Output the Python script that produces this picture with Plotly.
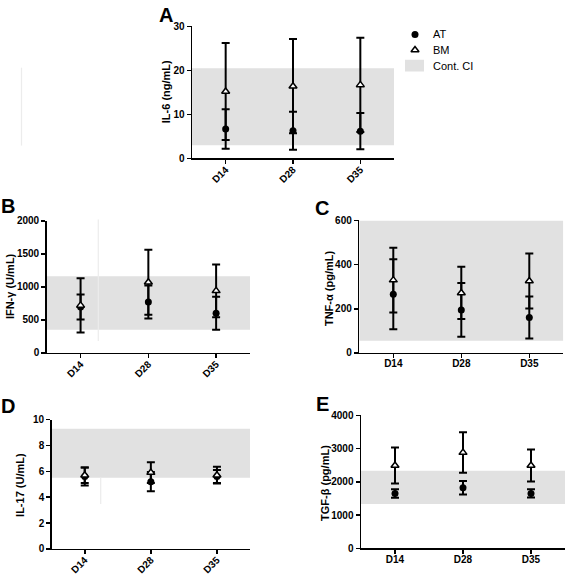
import plotly.graph_objects as go

W, H = 567, 582

days = ["D14", "D28", "D35"]

# Panel A: IL-6 (ng/mL)
il6_at = [6.7, 6.3, 6.2]
il6_at_err = [4.5, 4.3, 4.1]
il6_bm = [15.2, 16.4, 16.7]
il6_bm_err = [11.0, 10.7, 10.7]
il6_ci = [3.0, 20.5]

# Panel B: IFN-gamma (U/mL)
ifn_at = [695, 770, 600]
ifn_at_err = [190, 250, 250]
ifn_bm = [720, 1070, 940]
ifn_bm_err = [410, 490, 400]
ifn_ci = [350, 1160]

# Panel C: TNF-alpha (pg/mL)
tnf_at = [266, 195, 161]
tnf_at_err = [158, 122, 95]
tnf_bm = [330, 272, 326]
tnf_bm_err = [147, 118, 124]
tnf_ci = [55, 600]

# Panel D: IL-17 (U/mL)
il17_at = [5.6, 5.2, 5.6]
il17_at_err = [0.7, 0.75, 0.5]
il17_bm = [5.7, 5.9, 5.7]
il17_bm_err = [0.6, 0.8, 0.65]
il17_ci = [5.5, 9.3]

# Panel E: TGF-beta (pg/mL)
tgf_at = [1650, 1820, 1650]
tgf_at_err = [130, 205, 125]
tgf_bm = [2490, 2880, 2490]
tgf_bm_err = [540, 610, 480]
tgf_ci = [1330, 2330]

FONT = "Liberation Sans, Arial, sans-serif"
BAND = "#e1e1e1"

def px_x(p):
    return p / W

def px_y(p):
    return 1 - p / H

panels = [
    dict(letter="A", title="IL-6 (ng/mL)", at=il6_at, ate=il6_at_err, bm=il6_bm, bme=il6_bm_err,
         ci=il6_ci, ymax=30, dtick=10, xd=(192, 394), yd=(20.7, 155.7), angle=-45,
         lp=(166, 9), tp=(166, 88)),
    dict(letter="B", title="IFN-γ (U/mL)", at=ifn_at, ate=ifn_at_err, bm=ifn_bm, bme=ifn_bm_err,
         ci=ifn_ci, ymax=2000, dtick=500, xd=(46.7, 250), yd=(219.3, 354.3), angle=-45,
         lp=(8, 204), tp=(10, 286)),
    dict(letter="C", title="TNF-α (pg/mL)", at=tnf_at, ate=tnf_at_err, bm=tnf_bm, bme=tnf_bm_err,
         ci=tnf_ci, ymax=600, dtick=200, xd=(359.3, 563.3), yd=(219, 354.3), angle=0,
         lp=(322, 206), tp=(329, 288)),
    dict(letter="D", title="IL-17 (U/mL)", at=il17_at, ate=il17_at_err, bm=il17_bm, bme=il17_bm_err,
         ci=il17_ci, ymax=10, dtick=2, xd=(51.7, 250), yd=(422.3, 554.3), angle=-45,
         lp=(8, 408), tp=(20, 489)),
    dict(letter="E", title="TGF-β (pg/mL)", at=tgf_at, ate=tgf_at_err, bm=tgf_bm, bme=tgf_bm_err,
         ci=tgf_ci, ymax=4000, dtick=1000, xd=(361, 565), yd=(418, 553.7), angle=0,
         lp=(322, 406), tp=(325, 487)),
]

fig = go.Figure()
layout = dict(
    width=W, height=H, margin=dict(l=0, r=0, t=0, b=0),
    paper_bgcolor="white", plot_bgcolor="rgba(0,0,0,0)",
    showlegend=False, font=dict(family=FONT, color="black"),
)
shapes = []
annotations = []
xs = [0, 1, 2]

for i, p in enumerate(panels, start=1):
    xa = "x" if i == 1 else f"x{i}"
    ya = "y" if i == 1 else f"y{i}"
    xkey = "xaxis" if i == 1 else f"xaxis{i}"
    ykey = "yaxis" if i == 1 else f"yaxis{i}"
    layout[xkey] = dict(
        domain=[px_x(p["xd"][0]), px_x(p["xd"][1])], anchor=ya,
        range=[-0.5, 2.5], tickvals=xs, ticktext=days, tickangle=p["angle"],
        showline=True, linecolor="black", linewidth=1.5, ticks="outside",
        ticklen=4, tickwidth=1.5, tickcolor="black", showgrid=False, zeroline=False,
        ticklabelstandoff=-4 if p["angle"] else -3,
        tickfont=dict(family=FONT, size=10, color="black", weight="bold"),
    )
    layout[ykey] = dict(
        domain=[px_y(p["yd"][1]), px_y(p["yd"][0])], anchor=xa,
        range=[0, p["ymax"]], dtick=p["dtick"], tick0=0,
        showline=True, linecolor="black", linewidth=1.5, ticks="outside",
        ticklen=4, tickwidth=1.5, tickcolor="black", showgrid=False, zeroline=False,
        tickfont=dict(family=FONT, size=10, color="black", weight="bold"),
    )
    shapes.append(dict(type="rect", xref=xa, yref=ya, x0=-0.5, x1=2.5,
                       y0=p["ci"][0], y1=p["ci"][1], fillcolor=BAND,
                       line=dict(width=0), layer="below"))
    fig.add_trace(go.Scatter(
        x=xs, y=p["at"], mode="markers", xaxis=xa, yaxis=ya, name="AT",
        marker=dict(symbol="circle", size=7, color="black"),
        error_y=dict(type="data", array=p["ate"], color="black", thickness=2, width=4),
        cliponaxis=False,
    ))
    fig.add_trace(go.Scatter(
        x=xs, y=p["bm"], mode="markers", xaxis=xa, yaxis=ya, name="BM",
        marker=dict(symbol="triangle-up", size=7, color="white",
                    line=dict(color="black", width=1.5)),
        error_y=dict(type="data", array=p["bme"], color="black", thickness=2, width=4),
        cliponaxis=False,
    ))
    annotations.append(dict(text=p["letter"], xref="paper", yref="paper",
                            x=px_x(p["lp"][0]), y=px_y(p["lp"][1]),
                            xanchor="center", yanchor="middle", showarrow=False,
                            font=dict(family=FONT, size=20, color="black", weight="bold")))
    annotations.append(dict(text=p["title"], xref="paper", yref="paper",
                            x=px_x(p["tp"][0]), y=px_y(p["tp"][1]), textangle=-90,
                            xanchor="center", yanchor="middle", showarrow=False,
                            font=dict(family=FONT, size=11, color="black", weight="bold")))

# Legend drawn on a small hidden pixel-scaled axis
layout["xaxis6"] = dict(domain=[px_x(400), px_x(440)], range=[400, 440], visible=False,
                        anchor="y6", fixedrange=True)
layout["yaxis6"] = dict(domain=[px_y(70), px_y(20)], range=[70, 20], visible=False,
                        anchor="x6", fixedrange=True)
fig.add_trace(go.Scatter(x=[415], y=[29], mode="markers", xaxis="x6", yaxis="y6",
                         marker=dict(symbol="circle", size=7, color="black")))
fig.add_trace(go.Scatter(x=[415], y=[45], mode="markers", xaxis="x6", yaxis="y6",
                         marker=dict(symbol="triangle-up", size=7, color="white",
                                     line=dict(color="black", width=1.5))))
shapes.append(dict(type="rect", xref="x6", yref="y6", x0=405, x1=424, y0=55, y1=67,
                   fillcolor=BAND, line=dict(width=0)))
for label, yy in [("AT", 29), ("BM", 45), ("Cont. CI", 61)]:
    annotations.append(dict(text=label, xref="paper", yref="paper",
                            x=px_x(431), y=px_y(yy), xanchor="left", yanchor="middle",
                            showarrow=False, font=dict(family=FONT, size=11, color="black")))

# faint scanning artefact lines present in the source image
for (xx, y0, y1) in [(21.5, 63, 142.5), (98.3, 218, 342), (100.7, 481.5, 508.5)]:
    shapes.append(dict(type="line", xref="paper", yref="paper",
                       x0=px_x(xx), x1=px_x(xx), y0=px_y(y0), y1=px_y(y1),
                       line=dict(color="#ececec", width=1.2)))

layout["shapes"] = shapes
layout["annotations"] = annotations
fig.update_layout(**layout)
fig.write_html("out.html", config={"displayModeBar": False, "staticPlot": True},
               post_script="document.body.style.margin='0';document.body.style.overflow='hidden';")
